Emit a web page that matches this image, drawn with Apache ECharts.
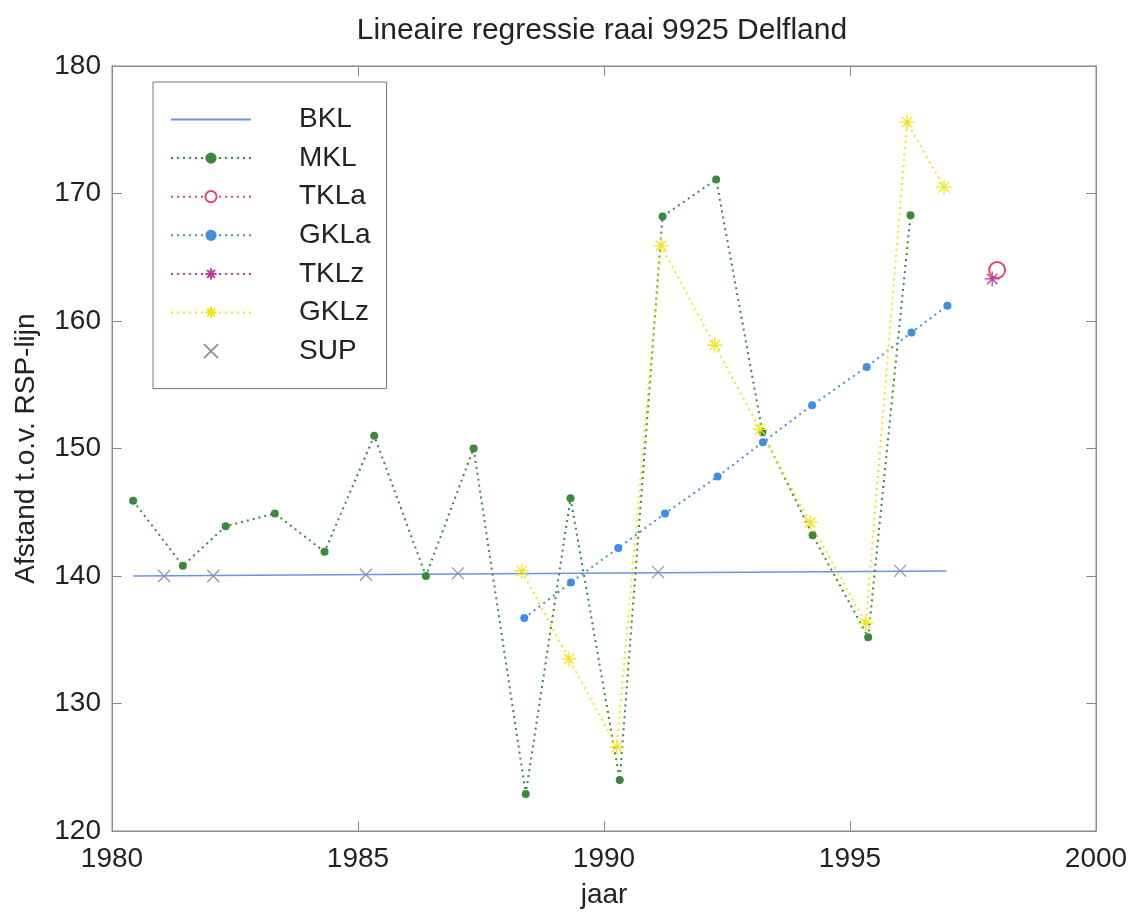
<!DOCTYPE html>
<html>
<head>
<meta charset="utf-8">
<script src="https://cdn.jsdelivr.net/npm/echarts@6/dist/echarts.min.js"></script>
<style>
  html, body { margin: 0; padding: 0; background: #fff; }
  #chart { width: 1134px; height: 914px; }
</style>
</head>
<body>
<div id="chart"></div>
<script>
// jaartallen en afstanden per reeks
const bklYears = [1980.43, 1996.96];
const bklValues = [140.0, 140.4];

const mklYears = [1980.43, 1981.44, 1982.31, 1983.31, 1984.32, 1985.33, 1986.38, 1987.35, 1988.41,
  1989.32, 1990.32, 1991.19, 1992.28, 1993.22, 1994.24, 1995.37, 1996.23];
const mklValues = [145.9, 140.8, 143.9, 144.9, 141.9, 151.0, 140.0, 150.0, 122.9,
  146.1, 124.0, 168.2, 171.1, 151.3, 143.2, 135.2, 168.3];

const tklaYears = [1997.99];
const tklaValues = [164.0];

const gklaYears = [1988.38, 1989.33, 1990.29, 1991.24, 1992.31, 1993.23, 1994.23, 1995.34, 1996.25, 1996.98];
const gklaValues = [136.7, 139.5, 142.2, 144.9, 147.8, 150.5, 153.4, 156.4, 159.1, 161.2];

const tklzYears = [1997.89];
const tklzValues = [163.3];

const gklzYears = [1988.33, 1989.29, 1990.26, 1991.16, 1992.25, 1993.17, 1994.19, 1995.32, 1996.16, 1996.91];
const gklzValues = [140.4, 133.5, 126.6, 165.9, 158.1, 151.5, 144.2, 136.3, 175.6, 170.5];

const supYears = [1981.06, 1982.06, 1985.16, 1987.03, 1991.1, 1996.02];
const supValues = [140.0, 140.0, 140.1, 140.2, 140.3, 140.4];

const xTicks = [1980, 1985, 1990, 1995, 2000];
const yTicks = [120, 130, 140, 150, 160, 170, 180];

const pairs = (xs, ys) => xs.map((x, i) => [x, ys[i]]);

const FONT = "Liberation Sans";
const star = "path://M5 0L5 10M0 5L10 5M1.5 1.5L8.5 8.5M8.5 1.5L1.5 8.5";
const cross = "path://M0 0L10 10M10 0L0 10";
const dots = [2, 4];
const AXIS = "#8a8a8a";

const chart = echarts.init(document.getElementById("chart"), null, { renderer: "canvas" });

const option = {
  animation: false,
  backgroundColor: "#fff",
  textStyle: { fontFamily: FONT },
  title: {
    text: "Lineaire regressie raai 9925 Delfland",
    left: 597,
    textAlign: "center",
    top: 11,
    textStyle: { fontFamily: FONT, fontSize: 30, fontWeight: "normal", color: "#222" },
  },
  grid: {
    left: 112, right: 38, top: 66, bottom: 82,
    show: true, borderColor: AXIS, borderWidth: 1,
  },
  legend: {
    orient: "vertical",
    left: 153, top: 82,
    padding: [23, 16, 23, 17],
    borderColor: "#777", borderWidth: 1,
    backgroundColor: "#fff",
    itemWidth: 80, itemHeight: 14,
    itemGap: 9.6,
    textStyle: { fontFamily: FONT, fontSize: 28, lineHeight: 29, color: "#222", padding: [0, 0, 0, 43] },
    data: [
      { name: "BKL", itemStyle: { opacity: 0 } },
      "MKL", "TKLa", "GKLa", "TKLz", "GKLz", "SUP",
    ],
  },
  xAxis: [{
    type: "value", min: 1980, max: 2000, interval: 5,
    name: "jaar", nameLocation: "middle", nameGap: 50,
    nameTextStyle: { fontFamily: FONT, fontSize: 28, color: "#222" },
    axisLine: { lineStyle: { color: AXIS } },
    axisTick: { inside: true, length: 10, lineStyle: { color: AXIS } },
    axisLabel: { fontFamily: FONT, fontSize: 28, color: "#222", margin: 14,
      formatter: (v) => xTicks.includes(v) ? String(v) : "" },
    splitLine: { show: false },
  }, {
    type: "value", position: "top", min: 1980, max: 2000, interval: 5,
    axisLine: { lineStyle: { color: AXIS } },
    axisTick: { inside: true, length: 10, lineStyle: { color: AXIS } },
    axisLabel: { show: false }, splitLine: { show: false },
  }],
  yAxis: [{
    type: "value", min: 120, max: 180, interval: 10,
    name: "Afstand t.o.v. RSP-lijn", nameLocation: "middle", nameGap: 72,
    nameTextStyle: { fontFamily: FONT, fontSize: 28, color: "#222" },
    axisLine: { show: true, lineStyle: { color: AXIS } },
    axisTick: { show: true, inside: true, length: 10, lineStyle: { color: AXIS } },
    axisLabel: { fontFamily: FONT, fontSize: 28, color: "#222", margin: 11,
      formatter: (v) => yTicks.includes(v) ? String(v) : "" },
    splitLine: { show: false },
  }, {
    type: "value", position: "right", min: 120, max: 180, interval: 10,
    axisLine: { show: true, lineStyle: { color: AXIS } },
    axisTick: { show: true, inside: true, length: 10, lineStyle: { color: AXIS } },
    axisLabel: { show: false }, splitLine: { show: false },
  }],
  series: [
    {
      name: "BKL", type: "line", data: pairs(bklYears, bklValues),
      symbol: "none", showSymbol: false, color: "#6b93e6",
      lineStyle: { color: "#6b93e6", width: 1.5 },
    },
    {
      name: "MKL", type: "line", data: pairs(mklYears, mklValues),
      symbol: "circle", symbolSize: 8, color: "#3b8a3b",
      itemStyle: { color: "#3b8a3b" },
      lineStyle: { color: "#3b8a3b", width: 2, type: dots },
    },
    {
      name: "TKLa", type: "line", data: pairs(tklaYears, tklaValues),
      symbol: "emptyCircle", symbolSize: 16, color: "#e5475e",
      itemStyle: { color: "#e5475e", borderColor: "#e5475e", borderWidth: 1.3 },
      lineStyle: { color: "#e5475e", width: 2, type: dots },
    },
    {
      name: "GKLa", type: "line", data: pairs(gklaYears, gklaValues),
      symbol: "circle", symbolSize: 8, color: "#3f8fe3",
      itemStyle: { color: "#3f8fe3" },
      lineStyle: { color: "#3f8fe3", width: 2, type: dots },
    },
    {
      name: "TKLz", type: "line", data: pairs(tklzYears, tklzValues),
      symbol: star, symbolSize: 15, color: "#c03c9e",
      itemStyle: { color: "none", borderColor: "#c03c9e", borderWidth: 1.3 },
      lineStyle: { color: "#c03c9e", width: 2, type: dots },
    },
    {
      name: "GKLz", type: "line", data: pairs(gklzYears, gklzValues),
      symbol: star, symbolSize: 15, color: "#f2e31f",
      itemStyle: { color: "none", borderColor: "#f2e31f", borderWidth: 1.3 },
      lineStyle: { color: "#f2e31f", width: 2, type: dots },
    },
    {
      name: "SUP", type: "scatter", data: pairs(supYears, supValues),
      symbol: cross, symbolSize: 12, color: "#777",
      itemStyle: { color: "none", borderColor: "#777", borderWidth: 1.2 },
    },
  ],
};

chart.setOption(option);
</script>
</body>
</html>
